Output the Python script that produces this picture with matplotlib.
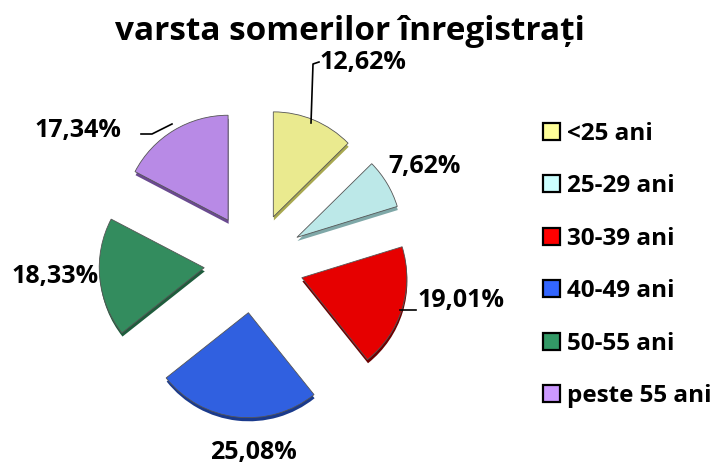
import matplotlib.pyplot as plt
import matplotlib.patheffects as pe
from matplotlib.patches import Patch

categories = ['<25 ani', '25-29 ani', '30-39 ani', '40-49 ani', '50-55 ani', 'peste 55 ani']
values = [12.62, 7.62, 19.01, 25.08, 18.33, 17.34]

slice_colors = ['#EAEA8F', '#BCE8E8', '#E60000', '#3060E0', '#338C5E', '#B88AE6']
shadow_colors = ['#A8A850', '#7FA8A8', '#6A0000', '#1A3A8C', '#1E5C3C', '#6A4A90']
legend_colors = ['#FFFF99', '#CCFFFF', '#FF0000', '#3366FF', '#339966', '#CC99FF']

plt.rcParams['font.family'] = ['Open Sans', 'DejaVu Sans']
plt.rcParams['font.weight'] = 'bold'

W, H = 716, 466
fig = plt.figure(figsize=(W / 100, H / 100), dpi=100)
ax = fig.add_axes([0, 0, 1, 1])

wedges, _ = ax.pie(values, colors=slice_colors, startangle=90, counterclock=False,
                   explode=[50] * len(values), radius=105, center=(254, H - 263),
                   wedgeprops=dict(edgecolor='#555555', linewidth=0.6))
for w, sc in zip(wedges, shadow_colors):
    w.set_path_effects([pe.SimplePatchShadow(offset=(0.4, -2.6), shadow_rgbFace=sc, alpha=1.0),
                        pe.Normal()])

ax.set_xlim(0, W)
ax.set_ylim(0, H)
ax.set_aspect('equal')
ax.axis('off')

# label positions (pixels from top-left)
label_pos = [(363, 62), (425, 166), (461, 300), (253, 453), (55, 276), (78, 131)]
for v, (lx, ly) in zip(values, label_pos):
    ax.text(lx, H - ly, f'{v:.2f}%'.replace('.', ','), ha='center', va='center',
            fontsize=18, fontweight='bold')

# leader lines
ax.plot([311, 313, 319], [H - 123, H - 64, H - 62], color='black', lw=1.2)
ax.plot([400, 416], [H - 310, H - 310], color='black', lw=1.2)
ax.plot([141, 152, 172], [H - 134, H - 134, H - 124], color='black', lw=1.2)

ax.text(350, H - 31, 'varsta somerilor înregistrați', ha='center', va='center',
        fontsize=24, fontweight='bold')

handles = [Patch(facecolor=c, edgecolor='black', linewidth=1.6) for c in legend_colors]
ax.legend(handles, categories, loc='upper left', bbox_to_anchor=(543, H - 122),
          bbox_transform=ax.transData, frameon=False, fontsize=17.5,
          handlelength=0.7, handleheight=0.7, handletextpad=0.28,
          labelspacing=1.17, borderpad=0, borderaxespad=0)

fig.savefig('out.png', dpi=100)
